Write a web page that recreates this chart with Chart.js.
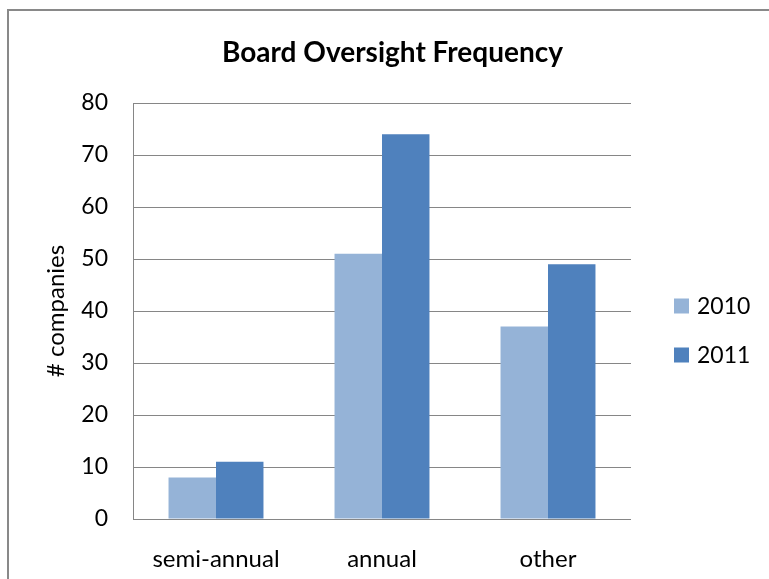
<!DOCTYPE html>
<html>
<head>
<meta charset="utf-8">
<script src="https://cdn.jsdelivr.net/npm/chart.js@4.4.1/dist/chart.umd.min.js"></script>
<style>
  html, body { margin: 0; padding: 0; background: #fff; overflow: hidden; }
  #wrap { width: 769px; height: 579px; }
</style>
</head>
<body>
<div id="wrap"><canvas id="oversightChart" width="769" height="579"></canvas></div>
<script>
// data
const categories = ['semi-annual', 'annual', 'other'];
const seriesNames = ['2010', '2011'];
const values2010 = [8, 51, 37];
const values2011 = [11, 74, 49];
const yTicks = [0, 10, 20, 30, 40, 50, 60, 70, 80];

const FONT = "Lato, 'Open Sans', sans-serif";
const GRID = '#868686';

// outer frame of the chart: only left and top edges fall inside the page
const framePlugin = {
    id: 'frame',
    beforeDraw(chart) {
        const ctx = chart.ctx;
        ctx.save();
        ctx.strokeStyle = '#898989';
        ctx.lineWidth = 2;
        ctx.beginPath();
        ctx.moveTo(8, chart.height);
        ctx.lineTo(8, 10);
        ctx.lineTo(chart.width, 10);
        ctx.stroke();
        ctx.restore();
    }
};

// legend on the right, drawn from the datasets
const sideLegend = {
    id: 'sideLegend',
    afterDraw(chart) {
        const ctx = chart.ctx;
        const area = chart.chartArea;
        const x = area.right + 43;
        const midY = (area.top + area.bottom) / 2;
        ctx.save();
        ctx.font = '23px ' + FONT;
        ctx.textBaseline = 'middle';
        ctx.textAlign = 'left';
        chart.data.datasets.forEach((ds, i) => {
            const cy = midY - 5 + i * 49;
            ctx.fillStyle = ds.backgroundColor;
            ctx.fillRect(x, cy - 7.5, 15, 15);
            ctx.fillStyle = '#000';
            ctx.fillText(ds.label, x + 23, cy + 1);
        });
        ctx.restore();
    }
};

new Chart(document.getElementById('oversightChart'), {
    type: 'bar',
    data: {
        labels: categories,
        datasets: [
            { label: seriesNames[0], data: values2010, backgroundColor: '#95B3D7' },
            { label: seriesNames[1], data: values2011, backgroundColor: '#4F81BD' }
        ]
    },
    options: {
        responsive: false,
        animation: false,
        layout: { padding: { left: 16, right: 0, top: 0, bottom: 0 } },
        datasets: {
            bar: { categoryPercentage: 0.572, barPercentage: 1.0 }
        },
        plugins: {
            legend: { display: false },
            tooltip: { enabled: false },
            title: {
                display: true,
                text: 'Board Oversight Frequency',
                color: '#000',
                font: { family: FONT, size: 28, weight: 'bold' },
                padding: { top: 36, bottom: 33.4 }
            }
        },
        scales: {
            x: {
                grid: { display: false },
                border: { display: false },
                ticks: {
                    color: '#000',
                    font: { family: FONT, size: 24 },
                    padding: 18
                },
                afterFit(scale) { scale.height = 60; }
            },
            y: {
                min: 0,
                max: 80,
                afterBuildTicks(scale) {
                    scale.ticks = yTicks.map(v => ({ value: v }));
                },
                grid: { color: GRID, lineWidth: 1, drawTicks: false },
                border: { display: true, color: GRID, width: 1 },
                ticks: {
                    color: '#000',
                    font: { family: FONT, size: 23 },
                    padding: 25
                },
                title: {
                    display: true,
                    text: '# companies',
                    color: '#000',
                    font: { family: FONT, size: 24 },
                    padding: { top: 26, bottom: 0 }
                },
                afterFit(scale) { scale.width = 117; }
            },
            // empty axis that only reserves the room used by the legend
            y2: {
                position: 'right',
                grid: { display: false },
                border: { display: false },
                ticks: { display: false },
                afterFit(scale) { scale.width = 138; }
            }
        }
    },
    plugins: [framePlugin, sideLegend]
});
</script>
</body>
</html>
